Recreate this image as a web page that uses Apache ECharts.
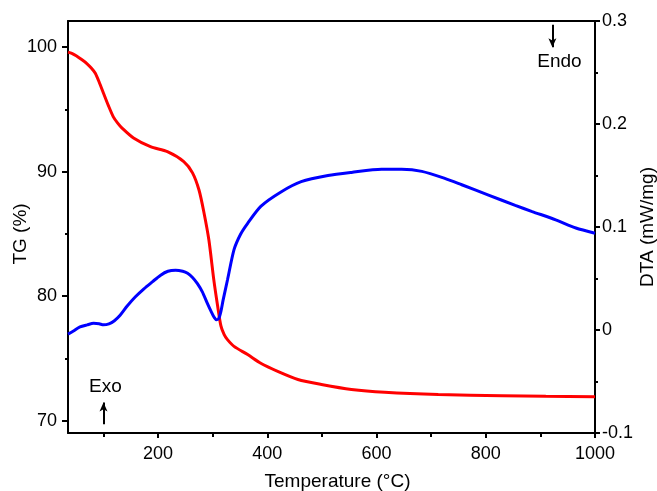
<!DOCTYPE html>
<html>
<head>
<meta charset="utf-8">
<title>TG / DTA</title>
<script src="https://cdn.jsdelivr.net/npm/echarts@6/dist/echarts.min.js"></script>
<style>
  html, body { margin: 0; padding: 0; background: #fff; }
  #chart { width: 657px; height: 491px; }
</style>
</head>
<body>
<div id="chart"></div>
<script>
// Thermogravimetric (TG) curve: temperature (°C) and remaining mass (%)
const tgTemp = [35, 42, 50, 60, 69, 78, 85, 92, 100, 109, 118, 126, 134, 155, 186, 217, 247, 263, 275, 284, 293, 302, 309, 315, 321, 327, 339, 364, 388, 419, 456, 499, 554, 615, 713, 830, 910, 1000];
const tgMass = [99.6, 99.5, 99.3, 99.0, 98.7, 98.3, 97.9, 97.2, 96.3, 95.3, 94.4, 93.9, 93.5, 92.7, 92.0, 91.6, 90.8, 89.9, 88.5, 86.7, 84.5, 81.3, 79.2, 77.6, 76.9, 76.5, 75.96, 75.3, 74.6, 73.95, 73.3, 72.9, 72.5, 72.27, 72.09, 72.0, 71.95, 71.92];

// Differential thermal analysis (DTA) curve: temperature (°C) and heat flow (mW/mg)
const dtaTemp = [35, 45, 57, 70, 82, 92, 100, 110, 120, 130, 143, 158, 174, 190, 204, 218, 232, 245, 254, 263, 272, 281, 290, 297, 303, 307, 311, 315, 319, 327, 339, 351, 364, 388, 425, 462, 511, 554, 609, 646, 683, 726, 756, 805, 854, 885, 928, 965, 1000];
const dtaFlow = [-0.004, -0.001, 0.003, 0.005, 0.0065, 0.006, 0.005, 0.006, 0.009, 0.014, 0.023, 0.032, 0.040, 0.047, 0.053, 0.057, 0.058, 0.057, 0.055, 0.051, 0.045, 0.037, 0.026, 0.018, 0.012, 0.010, 0.011, 0.018, 0.029, 0.0485, 0.078, 0.093, 0.1036, 0.120, 0.134, 0.144, 0.150, 0.153, 0.156, 0.156, 0.154, 0.147, 0.141, 0.131, 0.121, 0.115, 0.107, 0.099, 0.094];

// Axis ticks
const tempTicks = [200, 400, 600, 800, 1000];
const tempMinorTicks = [100, 300, 500, 700, 900];
const tgTicks = [70, 80, 90, 100];
const tgMinorTicks = [75, 85, 95];

const FONT = "'Liberation Sans', Arial, Helvetica, sans-serif";
const BLACK = '#000';

const zip = (xs, ys) => xs.map((x, i) => [x, ys[i]]);
const plain = v => String(Math.round(v * 10) / 10);

const chart = echarts.init(document.getElementById('chart'), null, { renderer: 'canvas' });

const hiddenLine = { show: false, onZero: false };
const noLabel = { show: false };

chart.setOption({
  animation: false,
  backgroundColor: '#fff',
  grid: { left: 68, right: 62, top: 21, bottom: 58, containLabel: false, outerBoundsMode: 'none' },
  xAxis: [
    {
      type: 'value', position: 'bottom', min: 35, max: 1000,
      name: 'Temperature (°C)', nameLocation: 'middle', nameGap: 39, nameMoveOverlap: false,
      nameTextStyle: { fontFamily: FONT, fontSize: 19, color: BLACK, padding: [0, 0, 0, 12] },
      axisLine: { show: true, onZero: false, lineStyle: { color: BLACK, width: 2 } },
      axisTick: { show: true, inside: false, length: 5, customValues: tempTicks, lineStyle: { color: BLACK, width: 2 } },
      axisLabel: { show: true, margin: 12, customValues: tempTicks, fontFamily: FONT, fontSize: 18, color: BLACK, formatter: plain },
      splitLine: { show: false }
    },
    {
      // minor ticks along the temperature axis
      type: 'value', position: 'bottom', min: 35, max: 1000,
      axisLine: hiddenLine,
      axisTick: { show: true, length: 4, customValues: tempMinorTicks, lineStyle: { color: BLACK, width: 2 } },
      axisLabel: noLabel, splitLine: { show: false }
    },
    {
      // top frame edge
      type: 'value', position: 'top', min: 35, max: 1000,
      axisLine: { show: true, onZero: false, lineStyle: { color: BLACK, width: 2 } },
      axisTick: { show: false }, axisLabel: noLabel, splitLine: { show: false }
    }
  ],
  yAxis: [
    {
      type: 'value', position: 'left', min: 69, max: 102.1,
      name: 'TG (%)', nameLocation: 'middle', nameGap: 38, nameMoveOverlap: false,
      nameTextStyle: { fontFamily: FONT, fontSize: 19, color: BLACK, padding: [0, 14, 0, 0] },
      axisLine: { show: true, onZero: false, lineStyle: { color: BLACK, width: 2 } },
      axisTick: { show: true, inside: false, length: 6, customValues: tgTicks, lineStyle: { color: BLACK, width: 2 } },
      axisLabel: { show: true, margin: 11, customValues: tgTicks, fontFamily: FONT, fontSize: 18, color: BLACK, formatter: plain },
      splitLine: { show: false }
    },
    {
      // minor ticks along the TG axis
      type: 'value', position: 'left', min: 69, max: 102.1,
      axisLine: hiddenLine,
      axisTick: { show: true, length: 3, customValues: tgMinorTicks, lineStyle: { color: BLACK, width: 2 } },
      axisLabel: noLabel, splitLine: { show: false }
    },
    {
      type: 'value', position: 'right', min: -0.1, max: 0.3, interval: 0.1,
      name: 'DTA (mW/mg)', nameLocation: 'middle', nameGap: 43, nameMoveOverlap: false,
      nameTextStyle: { fontFamily: FONT, fontSize: 19, color: BLACK },
      axisLine: { show: true, onZero: false, lineStyle: { color: BLACK, width: 2 } },
      axisTick: { show: true, inside: false, length: 5, lineStyle: { color: BLACK, width: 2 } },
      minorTick: { show: true, splitNumber: 2, length: 3, lineStyle: { color: BLACK, width: 2 } },
      axisLabel: { show: true, margin: 7, fontFamily: FONT, fontSize: 18, color: BLACK, formatter: plain },
      splitLine: { show: false }, minorSplitLine: { show: false }
    }
  ],
  series: [
    {
      name: 'TG', type: 'line', xAxisIndex: 0, yAxisIndex: 0,
      data: zip(tgTemp, tgMass),
      showSymbol: false, smooth: 0.25,
      lineStyle: { color: '#ff0000', width: 3 },
      itemStyle: { color: '#ff0000' },
      z: 2,
      markLine: {
        silent: true,
        symbol: ['none', 'arrow'],
        symbolSize: [6, 9],
        label: { show: false },
        lineStyle: { color: BLACK, width: 2, type: 'solid' },
        data: [
          [{ coord: [100, 69.7] }, { coord: [100, 71.45] }],
          [{ coord: [922, 101.8] }, { coord: [922, 100.0] }]
        ]
      },
      markPoint: {
        silent: true,
        symbol: 'circle', symbolSize: 0,
        label: { show: true, position: 'inside', fontFamily: FONT, fontSize: 19, color: BLACK, formatter: p => p.name },
        data: [
          { name: 'Exo', coord: [103.6, 72.75] },
          { name: 'Endo', coord: [935, 98.8] }
        ]
      }
    },
    {
      name: 'DTA', type: 'line', xAxisIndex: 0, yAxisIndex: 2,
      data: zip(dtaTemp, dtaFlow),
      showSymbol: false, smooth: 0.25,
      lineStyle: { color: '#0000ff', width: 3 },
      itemStyle: { color: '#0000ff' },
      z: 3
    }
  ]
});
</script>
</body>
</html>
